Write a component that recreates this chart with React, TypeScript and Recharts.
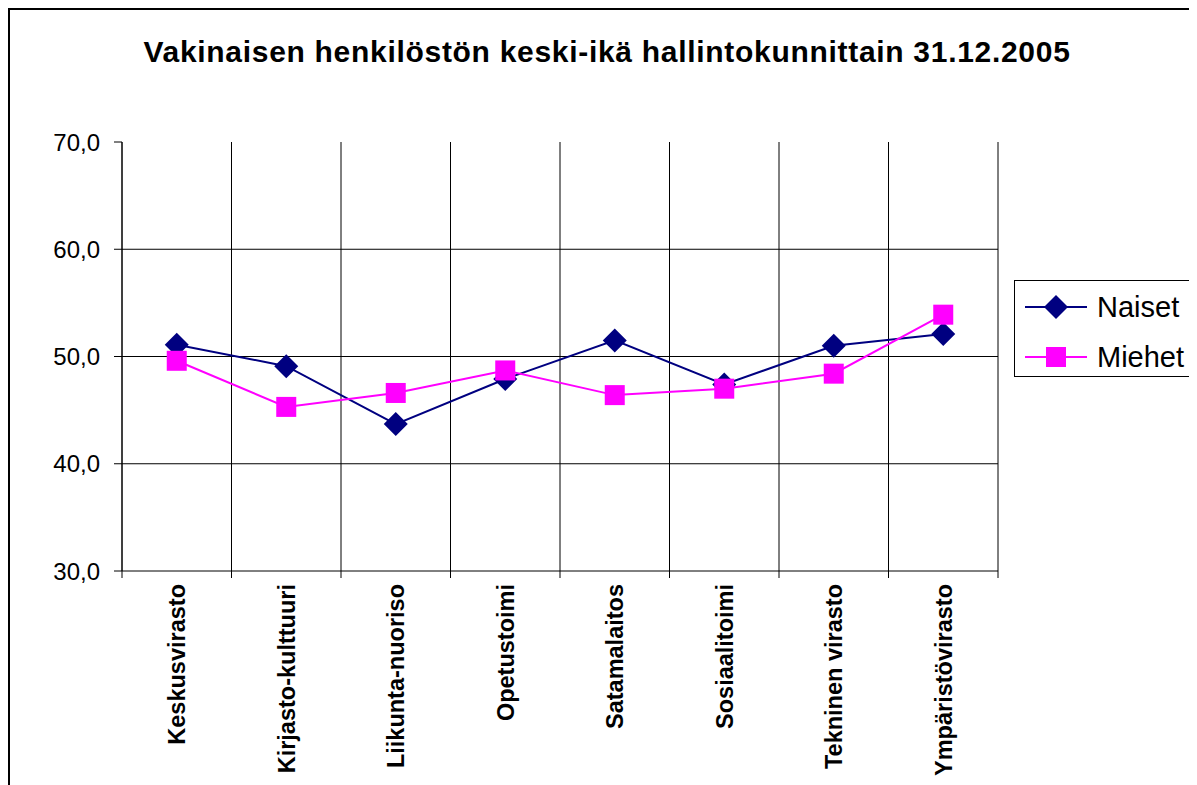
import React from "react";
import { CartesianGrid, Line, LineChart, XAxis, YAxis } from "recharts";

const CATEGORIES = [
  "Keskusvirasto",
  "Kirjasto-kulttuuri",
  "Liikunta-nuoriso",
  "Opetustoimi",
  "Satamalaitos",
  "Sosiaalitoimi",
  "Tekninen virasto",
  "Ympäristövirasto",
];
const NAISET = [51.1, 49.1, 43.7, 47.9, 51.5, 47.4, 51.0, 52.1];
const MIEHET = [49.6, 45.3, 46.6, 48.7, 46.4, 47.0, 48.4, 53.9];
const Y_TICKS = [30, 40, 50, 60, 70];
const GRID_Y = [40, 50, 60];

const NAVY = "#000080";
const MAGENTA = "#FF00FF";
const FONT = '"Liberation Sans", Arial, sans-serif';

// category i sits in the middle of band [i, i+1]
const data = CATEGORIES.map((name, i) => ({
  x: i + 0.5,
  name,
  naiset: NAISET[i],
  miehet: MIEHET[i],
}));
const BOUNDS = CATEGORIES.map((_, i) => i).concat(CATEGORIES.length);
const CENTERS = CATEGORIES.map((_, i) => i + 0.5);

function Diamond({ cx, cy, size = 12 }: any) {
  if (cx == null || cy == null) return null;
  return (
    <polygon
      points={`${cx},${cy - size} ${cx + size},${cy} ${cx},${cy + size} ${cx - size},${cy}`}
      fill={NAVY}
    />
  );
}

function Square({ cx, cy, size = 10 }: any) {
  if (cx == null || cy == null) return null;
  return (
    <rect x={cx - size} y={cy - size} width={size * 2} height={size * 2} fill={MAGENTA} />
  );
}

function CategoryTick({ x, y, payload }: any) {
  const label = CATEGORIES[Math.floor(payload.value)];
  return (
    <g transform={`translate(${x},${y})`}>
      <text
        transform="rotate(-90)"
        x={-5}
        y={0}
        dy="0.36em"
        textAnchor="end"
        fontSize={23.5}
        fontWeight="bold"
        fill="#000"
        fontFamily={FONT}
      >
        {label}
      </text>
    </g>
  );
}

function LegendBox() {
  const row = (label: string, color: string, marker: React.ReactNode) => (
    <div style={{ display: "flex", alignItems: "center", height: 50, whiteSpace: "nowrap" }}>
      <svg width={82} height={30} style={{ flexShrink: 0 }}>
        <line x1={10} y1={15} x2={72} y2={15} stroke={color} strokeWidth={2} />
        {marker}
      </svg>
      <span style={{ fontSize: 29 }}>{label}</span>
    </div>
  );
  return (
    <div
      style={{
        position: "absolute",
        left: 1006,
        top: 272,
        width: 181,
        height: 97,
        border: "1px solid #000",
        boxSizing: "border-box",
        background: "#fff",
        fontFamily: FONT,
        paddingTop: 1,
      }}
    >
      {row("Naiset", NAVY, <Diamond cx={41} cy={15} size={12} />)}
      {row("Miehet", MAGENTA, <Square cx={41} cy={15} size={10} />)}
    </div>
  );
}

export default function App() {
  return (
    <div style={{ position: "relative", width: 1189, height: 777, fontFamily: FONT }}>
      <div
        style={{
          position: "absolute",
          left: 0,
          top: 0,
          width: "100%",
          height: "100%",
          borderLeft: "2px solid #000",
          borderTop: "2px solid #000",
          boxSizing: "border-box",
        }}
      />
      <div
        style={{
          position: "absolute",
          left: 0,
          width: 1198,
          top: 27,
          textAlign: "center",
          fontSize: 30,
          letterSpacing: 0.7,
          fontWeight: "bold",
          color: "#000",
        }}
      >
        Vakinaisen henkilöstön keski-ikä hallintokunnittain 31.12.2005
      </div>
      <div style={{ position: "absolute", left: 0, top: 0 }}>
        <LineChart
          width={1189}
          height={777}
          data={data}
          margin={{ top: 134, right: 199, bottom: 14, left: 14 }}
        >
          <CartesianGrid
            xAxisId="grid"
            stroke="#000"
            strokeWidth={1}
            horizontalValues={GRID_Y}
            verticalValues={BOUNDS}
          />
          <XAxis
            xAxisId="grid"
            type="number"
            dataKey="x"
            domain={[0, CATEGORIES.length]}
            ticks={BOUNDS}
            tick={() => <g />}
            tickSize={7}
            height={8}
            axisLine={{ stroke: "#000" }}
            tickLine={{ stroke: "#000" }}
            interval={0}
          />
          <XAxis
            xAxisId="lab"
            type="number"
            dataKey="x"
            domain={[0, CATEGORIES.length]}
            ticks={CENTERS}
            tick={<CategoryTick />}
            tickSize={0}
            tickMargin={0}
            height={192}
            axisLine={false}
            tickLine={false}
            interval={0}
          />
          <YAxis
            type="number"
            domain={[30, 70]}
            ticks={Y_TICKS}
            width={100}
            tickSize={8}
            tickMargin={14}
            axisLine={{ stroke: "#000" }}
            tickLine={{ stroke: "#000" }}
            tick={{ fontSize: 24, fill: "#000", fontFamily: FONT }}
            tickFormatter={(v: number) => v.toFixed(1).replace(".", ",")}
          />
          <Line
            xAxisId="grid"
            dataKey="naiset"
            name="Naiset"
            stroke={NAVY}
            strokeWidth={2}
            dot={(p: any) => <Diamond key={`n${p.index}`} cx={p.cx} cy={p.cy} />}
            activeDot={false}
            isAnimationActive={false}
          />
          <Line
            xAxisId="grid"
            dataKey="miehet"
            name="Miehet"
            stroke={MAGENTA}
            strokeWidth={2}
            dot={(p: any) => <Square key={`m${p.index}`} cx={p.cx} cy={p.cy} />}
            activeDot={false}
            isAnimationActive={false}
          />
        </LineChart>
      </div>
      <LegendBox />
    </div>
  );
}
